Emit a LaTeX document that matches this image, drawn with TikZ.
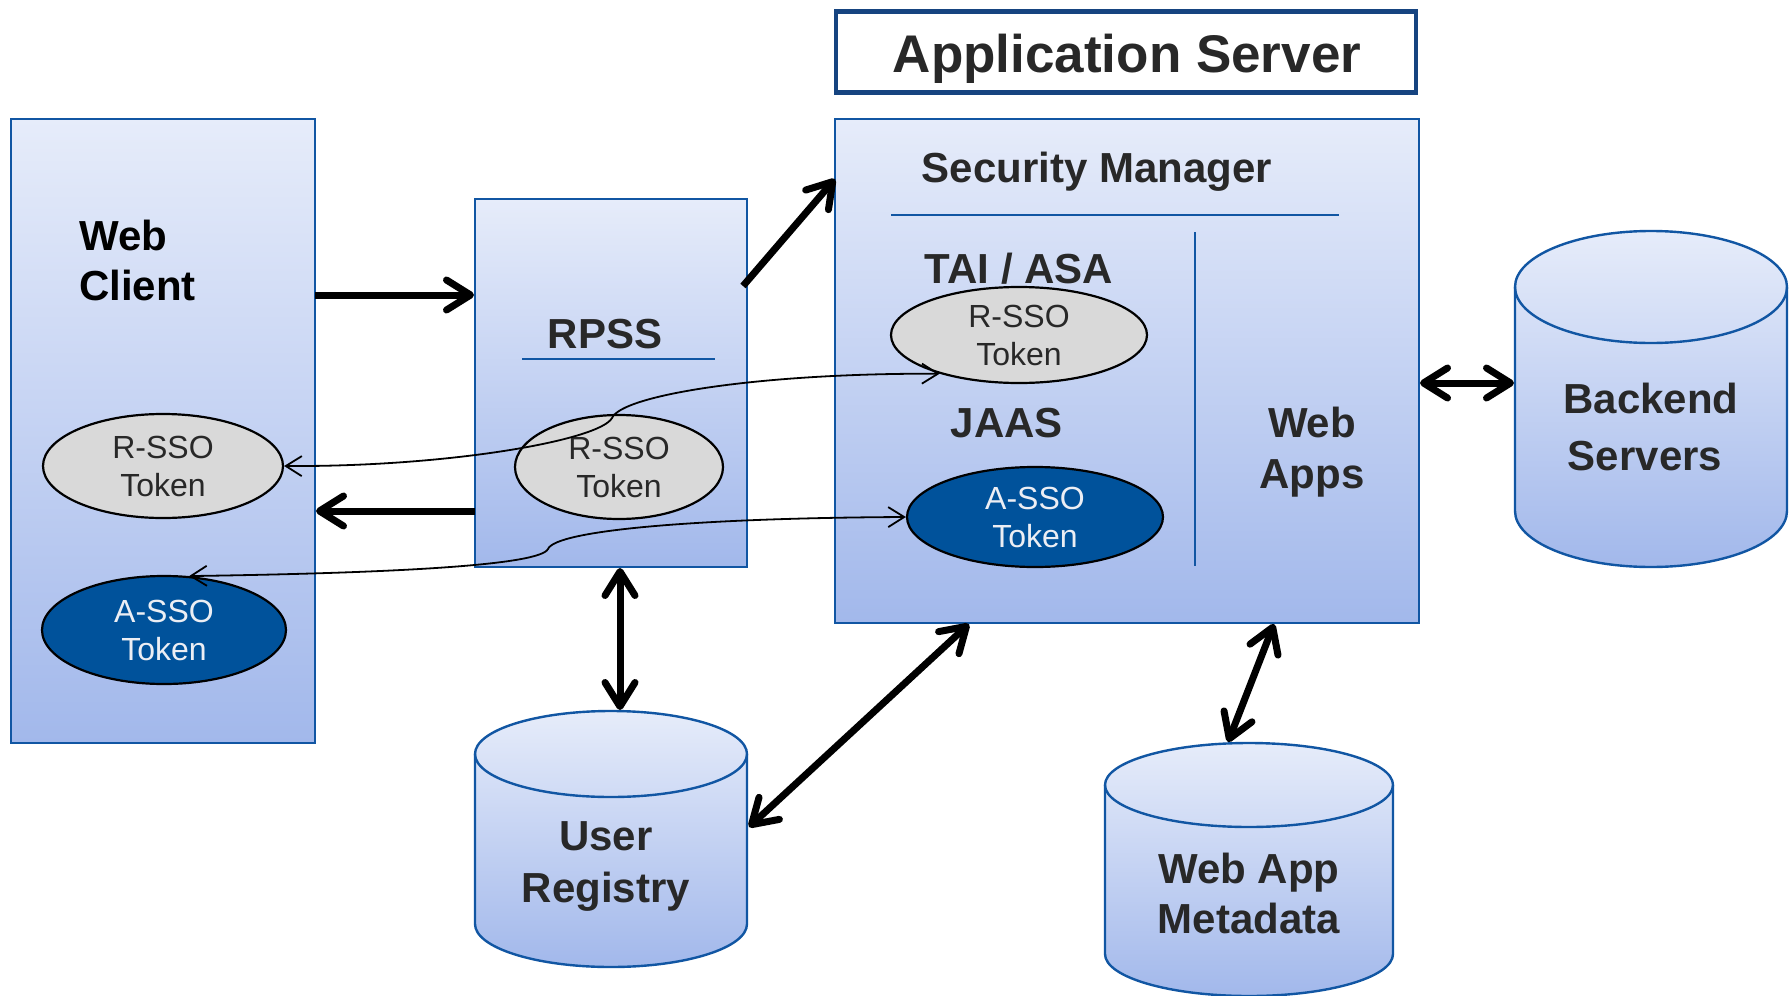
\documentclass[tikz,border=0pt]{standalone}
\usepackage{fontspec}
\setmainfont{Liberation Sans}
\usetikzlibrary{shapes.geometric,arrows.meta}

\definecolor{boxtop}{RGB}{230,236,250}
\definecolor{boxbot}{RGB}{162,184,235}
\definecolor{edgeblue}{RGB}{17,86,163}
\definecolor{navy}{RGB}{22,68,128}
\definecolor{tokdark}{RGB}{0,82,155}
\definecolor{tokgray}{RGB}{217,217,217}
\definecolor{inktext}{RGB}{40,40,40}
\definecolor{toklight}{RGB}{236,238,244}

\tikzset{
  panelfill/.style={draw=edgeblue, line width=2.4pt, top color=boxtop, bottom color=boxbot},
  panel/.style={panelfill, rectangle, inner sep=0pt, outer sep=0pt},
  heading/.style={font=\fontsize{42}{50}\selectfont\bfseries, text=inktext, inner sep=0pt, anchor=base},
  token/.style={ellipse, draw=black, line width=2.2pt, inner sep=0pt, align=center,
                font=\fontsize{32}{38}\selectfont},
  rtoken/.style={token, fill=tokgray, text=inktext},
  atoken/.style={token, fill=tokdark, text=toklight},
  bigone/.style={line width=7pt, -{Straight Barb[length=24pt,width=30pt,round]}},
  bigtwo/.style={line width=7pt, {Straight Barb[length=24pt,width=30pt,round]}-{Straight Barb[length=24pt,width=30pt,round]}},
  flow/.style={line width=1.8pt, {Straight Barb[length=16pt,width=20pt]}-{Straight Barb[length=16pt,width=20pt]}},
  rule/.style={draw=edgeblue, line width=2.4pt}
}

% storage cylinder: left x, right x, y of top rim centre, y of bottom rim centre, rim half-height
\newcommand\storagecyl[5]{%
  \pgfmathsetmacro\cylrx{(#2-#1)/2}%
  \path[panelfill] (#1,#3) -- (#1,#4)
     arc[start angle=180,end angle=360,x radius=\cylrx pt,y radius=#5pt]
     -- (#2,#3)
     arc[start angle=0,end angle=180,x radius=\cylrx pt,y radius=#5pt] -- cycle;
  \draw[rule] (#1,#3) arc[start angle=180,end angle=360,x radius=\cylrx pt,y radius=#5pt];
}

\begin{document}
\begin{tikzpicture}[x=1pt,y=1pt]
\useasboundingbox (0,0) rectangle (1792,-996);
\fill[white] (0,0) rectangle (1792,-996);

% main boxes
\node[panel, minimum width=304pt, minimum height=624pt] (webclient) at (163,-431) {};
\node[panel, minimum width=272pt, minimum height=368pt] (rpss) at (611,-383) {};
\node[panel, minimum width=584pt, minimum height=504pt] (appsrv) at (1127,-371) {};
\node[draw=navy, line width=4.5pt, fill=white, minimum width=580pt, minimum height=81pt,
      inner sep=0pt] (titlebox) at (1126,-52) {};

% storage
\storagecyl{1515}{1787}{-287}{-511}{56}
\storagecyl{475}{747}{-754}{-924}{43}
\storagecyl{1105}{1393}{-785}{-954}{42}

% divider rules
\draw[rule] (522,-359) -- (715,-359);
\draw[rule] (891,-215) -- (1339,-215);
\draw[rule] (1195,-232) -- (1195,-566);

% labels
\node[heading, font=\fontsize{53}{60}\selectfont\bfseries] (apptitle) at (1127,-72) {Application Server};
\node[heading, text=black, anchor=base west] (wc1) at (79,-250) {Web};
\node[heading, text=black, anchor=base west] (wc2) at (79,-300) {Client};
\node[heading] (rpsslbl) at (605,-348) {RPSS};
\node[heading] (secmgr) at (1097,-182) {Security Manager};
\node[heading] (tai) at (1019,-283) {TAI / ASA};
\node[heading] (jaas) at (1007,-437) {JAAS};
\node[heading] (wa1) at (1312,-437) {Web};
\node[heading] (wa2) at (1312,-488) {Apps};
\node[heading] (be1) at (1651,-413) {Backend};
\node[heading] (be2) at (1645,-470) {Servers};
\node[heading] (ur1) at (606,-850) {User};
\node[heading] (ur2) at (606,-902) {Registry};
\node[heading] (md1) at (1249,-883) {Web App};
\node[heading] (md2) at (1249,-933) {Metadata};

% tokens
\node[rtoken, minimum width=240pt, minimum height=104pt] (rtokwc) at (163,-466) {R-SSO\\Token};
\node[atoken, minimum width=244pt, minimum height=108pt] (atokwc) at (164,-630) {A-SSO\\Token};
\node[rtoken, minimum width=208pt, minimum height=104pt] (rtokrp) at (619,-467) {R-SSO\\Token};
\node[rtoken, minimum width=256pt, minimum height=96pt] (rtokapp) at (1019,-335) {R-SSO\\Token};
\node[atoken, minimum width=256pt, minimum height=100pt] (atokapp) at (1035,-517) {A-SSO\\Token};

% token flows
\coordinate (hop1) at (612,-418);
\coordinate (hop2) at (548,-549);
\draw[flow] (rtokwc.east) .. controls (450,-467) and (600,-440) .. (hop1)
            .. controls (622,-395) and (760,-373) .. (rtokapp.206);
\draw[flow] (atokwc.65) .. controls (400,-573) and (540,-565) .. (hop2)
            .. controls (556,-530) and (700,-518) .. (atokapp.west);

% connection points
\coordinate (wcreq) at (315,-295);
\coordinate (rpreq) at (474,-295);
\coordinate (rpresp) at (475,-511);
\coordinate (wcresp) at (316,-511);
\coordinate (rpfwd) at (743,-286);
\coordinate (appin) at (835,-179);
\coordinate (appbe) at (1420,-383);
\coordinate (bein) at (1514,-383);
\coordinate (rpdown) at (620,-568);
\coordinate (urtop) at (620,-710);
\coordinate (urside) at (749,-827);
\coordinate (appur) at (969,-624);
\coordinate (appmd) at (1274,-624);
\coordinate (mdtop) at (1228,-742);

% request and response paths
\draw[bigone] (wcreq) -- (rpreq);
\draw[bigone] (rpresp) -- (wcresp);
\draw[bigone] (rpfwd) -- (appin);
\draw[bigtwo] (appbe) -- (bein);
\draw[bigtwo] (rpdown) -- (urtop);
\draw[bigtwo] (urside) -- (appur);
\draw[bigtwo] (appmd) -- (mdtop);
\end{tikzpicture}
\end{document}
